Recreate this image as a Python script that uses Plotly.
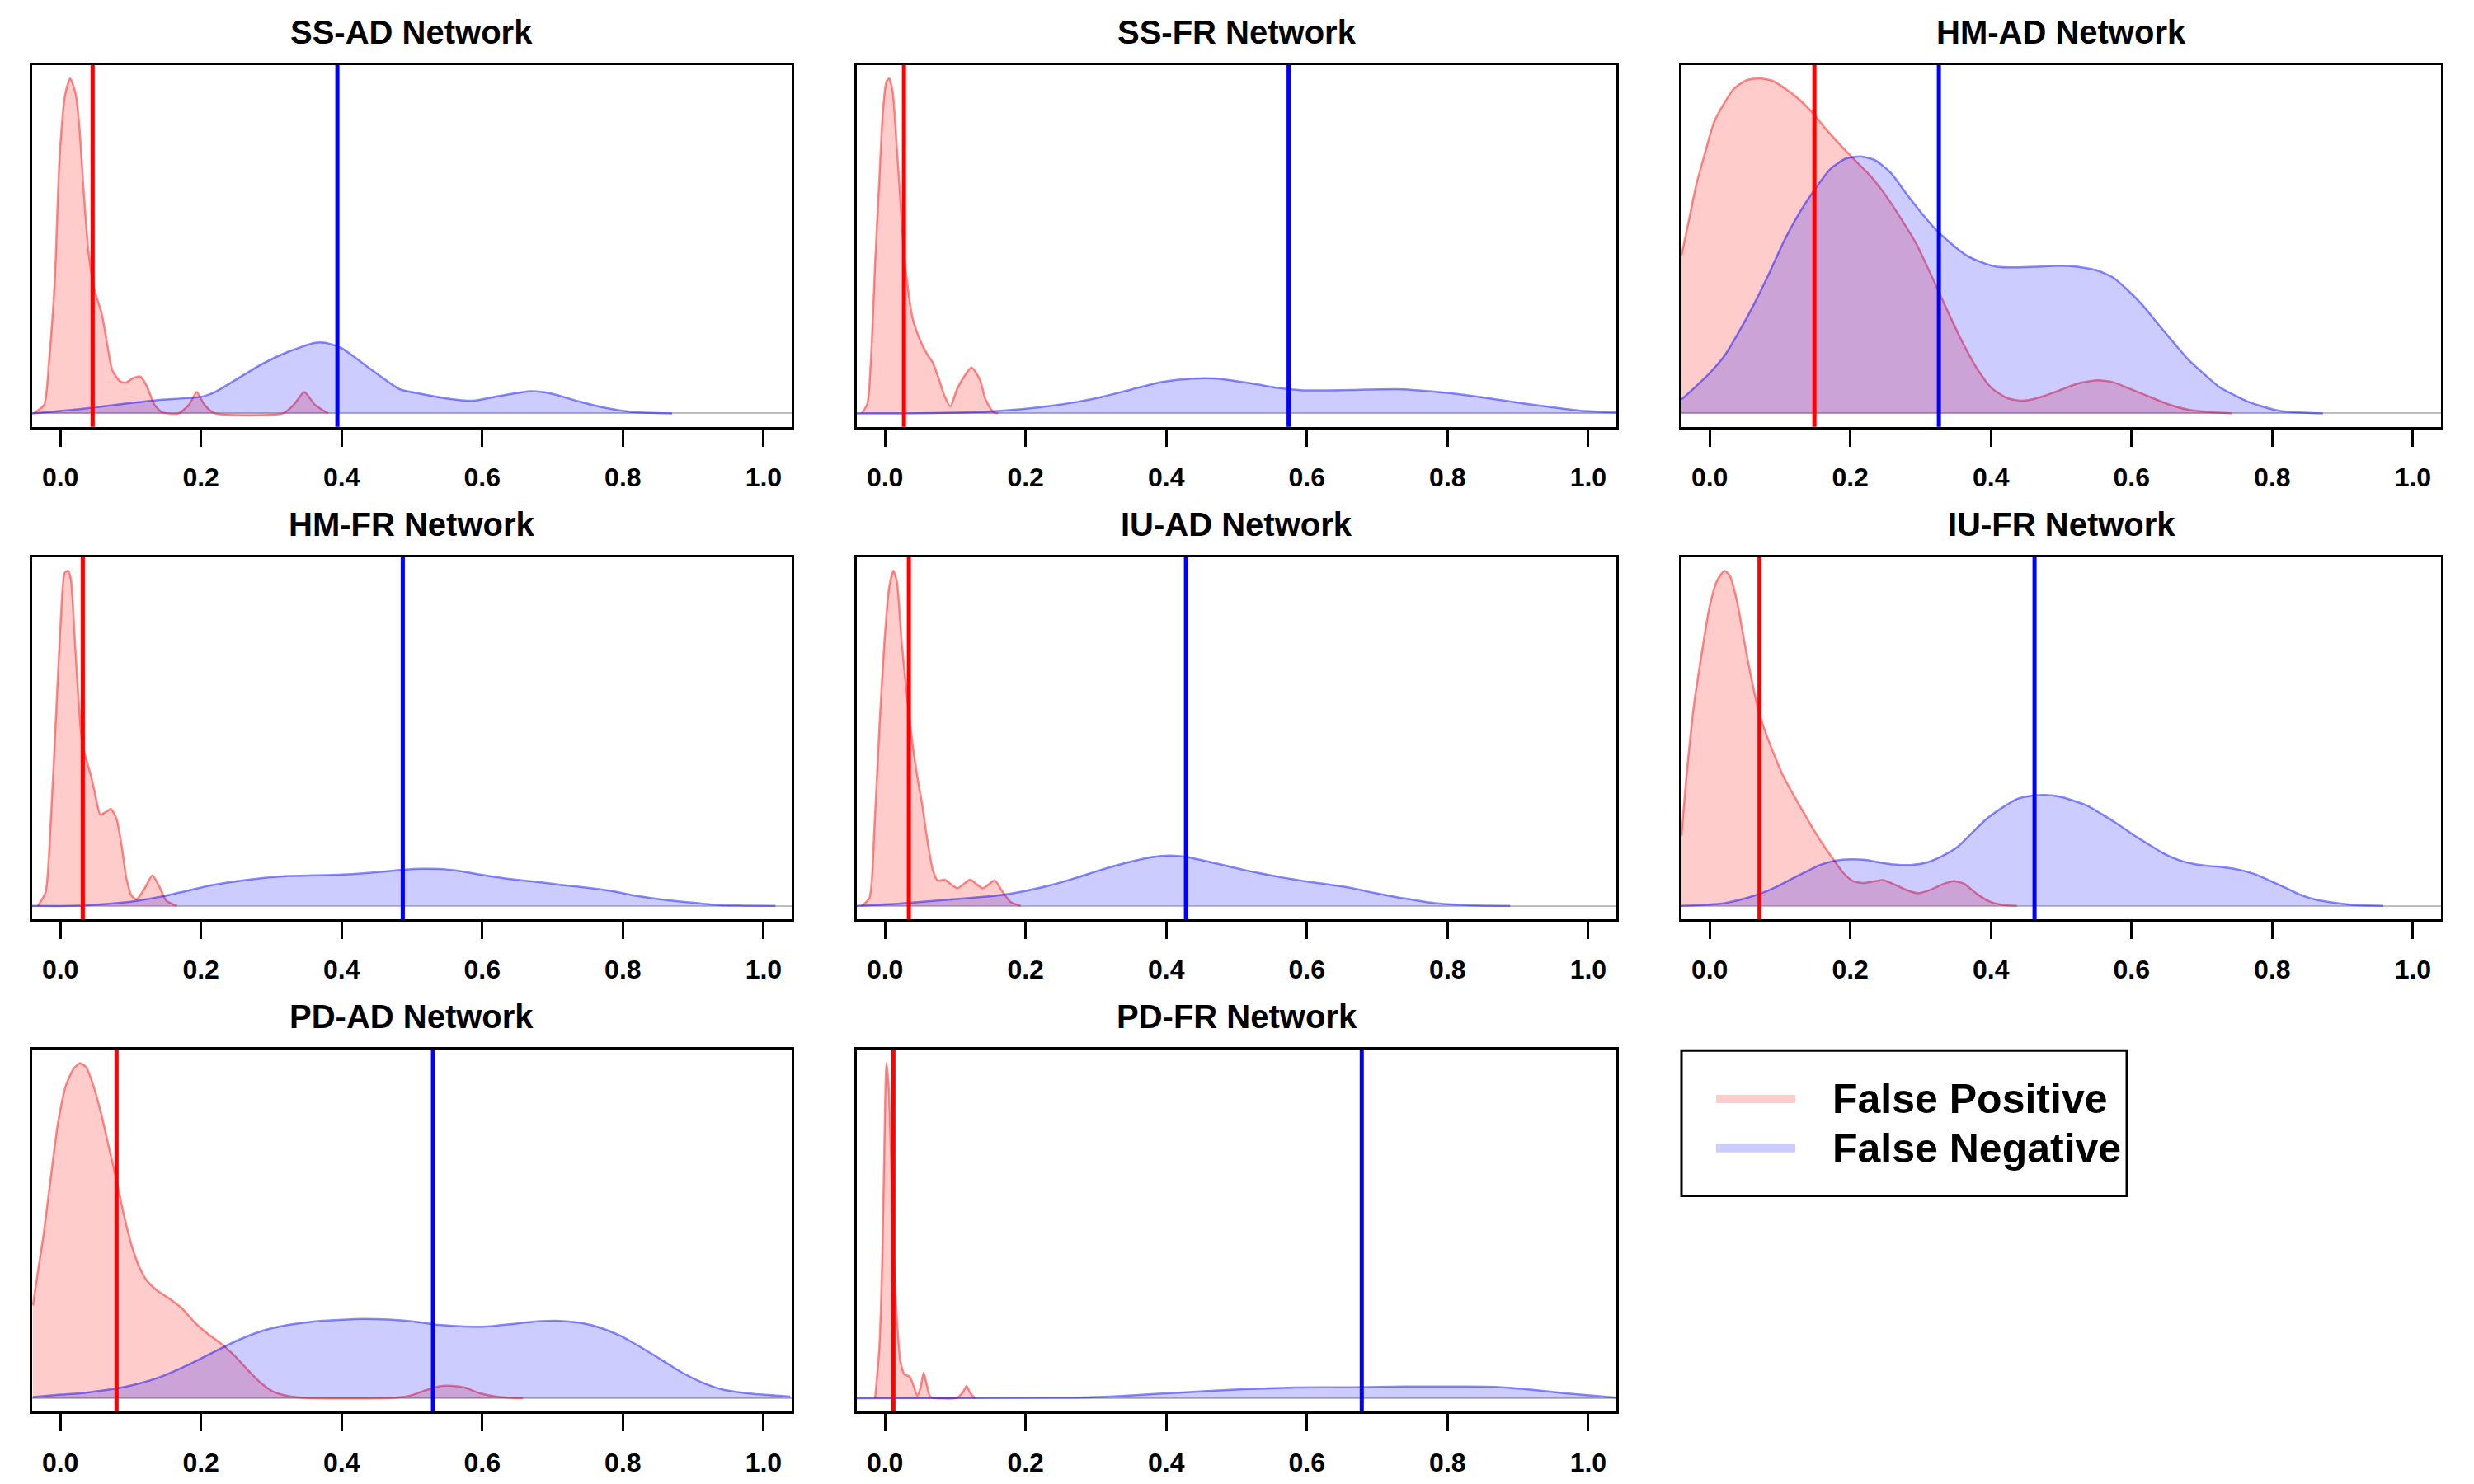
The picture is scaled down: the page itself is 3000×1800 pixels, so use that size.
import plotly.graph_objects as go
from plotly.subplots import make_subplots

# --- data ---
NETWORKS = ["SS-AD", "SS-FR", "HM-AD", "HM-FR", "IU-AD", "IU-FR", "PD-AD", "PD-FR"]

# vertical lines: observed false positive / false negative rate per network
FP_RATE = [0.046, 0.027, 0.149, 0.032, 0.034, 0.071, 0.080, 0.012]
FN_RATE = [0.394, 0.574, 0.326, 0.487, 0.428, 0.462, 0.530, 0.678]

# densities (scaled so the tallest peak of each panel is 1)
SS_AD_FP_X = [-0.038, -0.023, -0.016, -0.008, -0.001, 0.007, 0.014, 0.022, 0.027, 0.033, 0.040, 0.048, 0.059,
              0.067, 0.074, 0.085, 0.093, 0.104, 0.114, 0.123, 0.134, 0.145, 0.168, 0.183, 0.194, 0.205, 0.220,
              0.317, 0.332, 0.347, 0.362, 0.381]
SS_AD_FP_Y = [0, 0.026, 0.157, 0.391, 0.766, 0.953, 1.0, 0.953, 0.860, 0.672, 0.485, 0.373, 0.298,
              0.204, 0.129, 0.096, 0.092, 0.106, 0.110, 0.082, 0.026, 0.003, 0, 0.026, 0.064, 0.026, 0,
              0, 0.026, 0.064, 0.026, 0]
SS_AD_FN_X = [-0.040, 0.025, 0.100, 0.138, 0.201, 0.220, 0.250, 0.287, 0.325, 0.362, 0.377, 0.400, 0.437,
              0.482, 0.512, 0.549, 0.587, 0.624, 0.669, 0.699, 0.737, 0.774, 0.811, 0.870]
SS_AD_FN_Y = [0, 0.012, 0.031, 0.040, 0.050, 0.064, 0.101, 0.148, 0.185, 0.211, 0.211, 0.195, 0.139,
              0.073, 0.059, 0.045, 0.038, 0.052, 0.066, 0.059, 0.036, 0.017, 0.005, 0]

SS_FR_FP_X = [-0.033, -0.025, -0.019, -0.014, -0.008, -0.003, 0.002, 0.006, 0.011, 0.017, 0.021, 0.028, 0.039,
              0.050, 0.060, 0.068, 0.077, 0.085, 0.093, 0.103, 0.123, 0.135, 0.143, 0.154, 0.161]
SS_FR_FP_Y = [0, 0.03, 0.20, 0.45, 0.70, 0.90, 0.99, 1.0, 0.96, 0.79, 0.666, 0.455, 0.287,
              0.219, 0.177, 0.152, 0.101, 0.051, 0.021, 0.076, 0.137, 0.101, 0.042, 0.004, 0]
SS_FR_FN_X = [-0.040, 0.028, 0.114, 0.164, 0.222, 0.272, 0.308, 0.351, 0.394, 0.437, 0.473, 0.523, 0.559,
              0.595, 0.631, 0.667, 0.703, 0.739, 0.775, 0.810, 0.846, 0.882, 0.918, 0.954, 0.990, 1.040]
SS_FR_FN_Y = [0, 0, 0.003, 0.008, 0.019, 0.034, 0.049, 0.072, 0.094, 0.104, 0.104, 0.089, 0.076,
              0.069, 0.069, 0.070, 0.072, 0.072, 0.066, 0.059, 0.049, 0.038, 0.027, 0.017, 0.008, 0.003]

HM_AD_FP_X = [-0.040, -0.029, -0.019, -0.008, 0.006, 0.021, 0.035, 0.053, 0.071, 0.089, 0.107, 0.128, 0.146,
              0.164, 0.186, 0.207, 0.229, 0.251, 0.272, 0.294, 0.315, 0.337, 0.358, 0.380, 0.401, 0.423,
              0.444, 0.466, 0.495, 0.523, 0.552, 0.574, 0.595, 0.624, 0.653, 0.681, 0.710, 0.742]
HM_AD_FP_Y = [0.472, 0.582, 0.683, 0.767, 0.868, 0.927, 0.970, 0.995, 1.0, 0.993, 0.970, 0.936, 0.898,
              0.852, 0.801, 0.755, 0.708, 0.649, 0.582, 0.506, 0.413, 0.312, 0.219, 0.135, 0.076, 0.046,
              0.038, 0.046, 0.067, 0.089, 0.099, 0.093, 0.076, 0.051, 0.027, 0.011, 0.004, 0]
HM_AD_FN_X = [-0.040, -0.022, -0.001, 0.021, 0.042, 0.064, 0.085, 0.107, 0.128, 0.150, 0.172, 0.193, 0.215,
              0.236, 0.258, 0.279, 0.301, 0.322, 0.344, 0.365, 0.387, 0.408, 0.437, 0.466, 0.495, 0.523,
              0.552, 0.574, 0.595, 0.617, 0.638, 0.660, 0.681, 0.703, 0.724, 0.746, 0.767, 0.789, 0.810,
              0.839, 0.872]
HM_AD_FN_Y = [0.042, 0.076, 0.118, 0.172, 0.245, 0.330, 0.420, 0.520, 0.600, 0.670, 0.730, 0.760, 0.767,
              0.755, 0.717, 0.658, 0.599, 0.548, 0.506, 0.472, 0.451, 0.438, 0.436, 0.438, 0.441, 0.438,
              0.426, 0.405, 0.367, 0.320, 0.266, 0.211, 0.160, 0.118, 0.080, 0.055, 0.034, 0.019, 0.008,
              0.003, 0]

HM_FR_FP_X = [-0.032, -0.021, -0.014, -0.006, 0.001, 0.006, 0.011, 0.015, 0.021, 0.026, 0.031, 0.037, 0.044,
              0.051, 0.057, 0.065, 0.072, 0.080, 0.087, 0.094, 0.101, 0.108, 0.119, 0.131, 0.141, 0.151, 0.166]
HM_FR_FP_Y = [0, 0.040, 0.234, 0.572, 0.867, 0.993, 1.0, 0.976, 0.782, 0.614, 0.487, 0.437, 0.386,
              0.319, 0.272, 0.281, 0.289, 0.260, 0.184, 0.083, 0.032, 0.019, 0.049, 0.091, 0.057, 0.015, 0]
HM_FR_FN_X = [-0.040, 0.015, 0.072, 0.108, 0.144, 0.180, 0.216, 0.252, 0.288, 0.324, 0.360, 0.396, 0.431,
              0.467, 0.503, 0.539, 0.568, 0.604, 0.640, 0.676, 0.711, 0.747, 0.783, 0.819, 0.855, 0.891,
              0.927, 0.963, 1.017]
HM_FR_FN_Y = [0, 0, 0.007, 0.015, 0.028, 0.045, 0.062, 0.074, 0.083, 0.089, 0.091, 0.093, 0.097,
              0.104, 0.110, 0.110, 0.104, 0.091, 0.080, 0.072, 0.063, 0.055, 0.045, 0.030, 0.019, 0.011,
              0.004, 0.001, 0]

IU_AD_FP_X = [-0.033, -0.022, -0.015, -0.008, -0.001, 0.006, 0.012, 0.017, 0.024, 0.032, 0.039, 0.046, 0.053,
              0.060, 0.068, 0.075, 0.085, 0.103, 0.121, 0.139, 0.156, 0.168, 0.179, 0.193]
IU_AD_FP_Y = [0, 0.024, 0.234, 0.530, 0.782, 0.951, 1.0, 0.968, 0.782, 0.614, 0.487, 0.386, 0.302,
              0.201, 0.108, 0.076, 0.078, 0.053, 0.078, 0.053, 0.076, 0.040, 0.011, 0]
IU_AD_FN_X = [-0.040, 0.021, 0.093, 0.164, 0.200, 0.236, 0.272, 0.308, 0.344, 0.380, 0.405, 0.430, 0.466,
              0.509, 0.559, 0.609, 0.653, 0.696, 0.739, 0.782, 0.832, 0.889]
IU_AD_FN_Y = [0, 0.007, 0.019, 0.032, 0.045, 0.062, 0.084, 0.108, 0.129, 0.146, 0.150, 0.146, 0.129,
              0.108, 0.087, 0.070, 0.057, 0.039, 0.022, 0.008, 0.002, 0]

IU_FR_FP_X = [-0.040, -0.033, -0.022, -0.011, -0.001, 0.010, 0.021, 0.029, 0.039, 0.050, 0.060, 0.071, 0.082,
              0.093, 0.103, 0.118, 0.132, 0.146, 0.161, 0.175, 0.190, 0.204, 0.218, 0.233, 0.247, 0.265,
              0.283, 0.297, 0.315, 0.333, 0.347, 0.362, 0.380, 0.398, 0.416, 0.437]
IU_FR_FP_Y = [0.209, 0.386, 0.605, 0.757, 0.884, 0.968, 1.0, 0.984, 0.909, 0.782, 0.673, 0.572, 0.504,
              0.445, 0.395, 0.336, 0.285, 0.234, 0.184, 0.142, 0.099, 0.074, 0.068, 0.073, 0.077, 0.062,
              0.045, 0.038, 0.049, 0.066, 0.074, 0.066, 0.036, 0.013, 0.003, 0]
IU_FR_FN_X = [-0.040, -0.008, 0.021, 0.050, 0.071, 0.093, 0.114, 0.136, 0.157, 0.179, 0.200, 0.222, 0.243,
              0.265, 0.286, 0.308, 0.330, 0.352, 0.373, 0.394, 0.416, 0.437, 0.459, 0.477, 0.495, 0.516,
              0.538, 0.559, 0.581, 0.602, 0.624, 0.646, 0.667, 0.689, 0.711, 0.732, 0.753, 0.775, 0.796,
              0.818, 0.839, 0.861, 0.882, 0.911, 0.958]
IU_FR_FN_Y = [0, 0.003, 0.008, 0.022, 0.036, 0.055, 0.078, 0.101, 0.122, 0.135, 0.139, 0.137, 0.129,
              0.123, 0.122, 0.129, 0.148, 0.175, 0.218, 0.260, 0.293, 0.319, 0.329, 0.331, 0.327, 0.315,
              0.298, 0.272, 0.243, 0.213, 0.184, 0.156, 0.137, 0.125, 0.119, 0.115, 0.108, 0.095, 0.076,
              0.055, 0.034, 0.019, 0.011, 0.004, 0]

PD_AD_FP_X = [-0.039, -0.032, -0.024, -0.017, -0.010, -0.003, 0.008, 0.019, 0.028, 0.037, 0.047, 0.058, 0.069,
              0.080, 0.090, 0.101, 0.112, 0.123, 0.137, 0.155, 0.173, 0.191, 0.209, 0.230, 0.248, 0.266,
              0.284, 0.302, 0.324, 0.352, 0.467, 0.496, 0.518, 0.539, 0.557, 0.575, 0.597, 0.625, 0.658]
PD_AD_FP_Y = [0.277, 0.377, 0.485, 0.601, 0.718, 0.826, 0.934, 0.984, 1.0, 0.988, 0.934, 0.851, 0.751,
              0.651, 0.552, 0.460, 0.394, 0.352, 0.323, 0.298, 0.269, 0.227, 0.194, 0.161, 0.127, 0.086,
              0.048, 0.021, 0.007, 0.001, 0.001, 0.007, 0.023, 0.036, 0.037, 0.032, 0.015, 0.004, 0]
PD_AD_FN_X = [-0.039, 0.001, 0.037, 0.073, 0.108, 0.144, 0.180, 0.216, 0.252, 0.288, 0.324, 0.360, 0.396,
              0.431, 0.467, 0.503, 0.539, 0.575, 0.611, 0.647, 0.683, 0.711, 0.740, 0.769, 0.797, 0.826,
              0.855, 0.884, 0.912, 0.941, 0.970, 0.999, 1.038]
PD_AD_FN_Y = [0.004, 0.011, 0.017, 0.027, 0.042, 0.065, 0.098, 0.136, 0.173, 0.202, 0.219, 0.229, 0.234,
              0.237, 0.235, 0.229, 0.219, 0.214, 0.215, 0.223, 0.230, 0.231, 0.225, 0.210, 0.186, 0.152,
              0.115, 0.077, 0.048, 0.027, 0.017, 0.011, 0.005]

PD_FR_FP_X = [-0.014, -0.008, -0.004, -0.001, 0.002, 0.005, 0.009, 0.012, 0.017, 0.022, 0.028, 0.035, 0.041,
              0.046, 0.051, 0.055, 0.060, 0.065, 0.103, 0.111, 0.116, 0.121, 0.128]
PD_FR_FP_Y = [0, 0.152, 0.402, 0.735, 1.0, 0.943, 0.693, 0.443, 0.235, 0.111, 0.071, 0.065, 0.036,
              0.007, 0.036, 0.077, 0.036, 0.004, 0.002, 0.019, 0.037, 0.017, 0]
PD_FR_FN_X = [-0.040, 0.272, 0.337, 0.394, 0.452, 0.509, 0.581, 0.667, 0.739, 0.810, 0.868, 0.918, 0.968, 1.040]
PD_FR_FN_Y = [0, 0.002, 0.007, 0.014, 0.021, 0.027, 0.032, 0.033, 0.035, 0.035, 0.034, 0.026, 0.015, 0.002]

DENSITIES = {
    "SS-AD": (SS_AD_FP_X, SS_AD_FP_Y, SS_AD_FN_X, SS_AD_FN_Y),
    "SS-FR": (SS_FR_FP_X, SS_FR_FP_Y, SS_FR_FN_X, SS_FR_FN_Y),
    "HM-AD": (HM_AD_FP_X, HM_AD_FP_Y, HM_AD_FN_X, HM_AD_FN_Y),
    "HM-FR": (HM_FR_FP_X, HM_FR_FP_Y, HM_FR_FN_X, HM_FR_FN_Y),
    "IU-AD": (IU_AD_FP_X, IU_AD_FP_Y, IU_AD_FN_X, IU_AD_FN_Y),
    "IU-FR": (IU_FR_FP_X, IU_FR_FP_Y, IU_FR_FN_X, IU_FR_FN_Y),
    "PD-AD": (PD_AD_FP_X, PD_AD_FP_Y, PD_AD_FN_X, PD_AD_FN_Y),
    "PD-FR": (PD_FR_FP_X, PD_FR_FP_Y, PD_FR_FN_X, PD_FR_FN_Y),
}

LEGEND_LABELS = ["False Positive", "False Negative"]

# --- style ---
FONT = "Liberation Sans, Arial, sans-serif"
OFF = 8  # the page body has an 8px margin, so the figure is drawn that much smaller
W, H = 3000 - 2 * OFF, 1800 - 2 * OFF
FP_FILL, FP_LINE = "rgba(255,0,0,0.2)", "rgba(255,0,0,0.45)"
FN_FILL, FN_LINE = "rgba(0,0,255,0.2)", "rgba(0,0,255,0.45)"
LEGEND_SWATCH = ["#FFCCCC", "#CCCCFF"]

# panel boxes in screen pixels (left, right) and (top, bottom)
COLS_PX = [(39, 960), (1039, 1960), (2039, 2960)]
ROWS_PX = [(79, 520), (679, 1120), (1279, 1720)]


def px_x(p):
    return (p - OFF) / W


def px_y(p):
    return 1 - (p - OFF) / H


fig = make_subplots(rows=3, cols=3, specs=[[{}, {}, {}], [{}, {}, {}], [{}, {}, None]])

annotations = []
for i, name in enumerate(NETWORKS):
    r, c = divmod(i, 3)
    fx, fy, nx, ny = DENSITIES[name]
    for xs, ys, fill, line in [(fx, fy, FP_FILL, FP_LINE), (nx, ny, FN_FILL, FN_LINE)]:
        fig.add_trace(go.Scatter(x=xs, y=ys, mode="lines", fill="tozeroy", fillcolor=fill,
                                 line=dict(color=line, width=2.5, shape="spline", smoothing=0.6),
                                 showlegend=False, hoverinfo="skip"), row=r + 1, col=c + 1)
    fig.add_vline(x=FP_RATE[i], line=dict(color="#FF0000", width=5), row=r + 1, col=c + 1)
    fig.add_vline(x=FN_RATE[i], line=dict(color="#0000FF", width=5), row=r + 1, col=c + 1)

    ymax = max(max(fy), max(ny))
    sfx = "" if i == 0 else str(i + 1)
    x0, x1 = COLS_PX[c]
    t, b = ROWS_PX[r]
    fig.layout["xaxis" + sfx].update(
        domain=[px_x(x0), px_x(x1)], range=[-0.04, 1.04], tickvals=[0, 0.2, 0.4, 0.6, 0.8, 1.0],
        tickformat=".1f", ticks="outside", ticklen=21, tickwidth=3, tickcolor="black",
        ticklabelstandoff=10,
        tickfont=dict(size=32, family=FONT, color="black", weight="bold"),
        showline=True, mirror=True, linecolor="black", linewidth=3, showgrid=False, zeroline=False)
    fig.layout["yaxis" + sfx].update(
        domain=[px_y(b), px_y(t)], range=[-0.04 * ymax, 1.04 * ymax],
        showticklabels=False, ticks="", showline=True, mirror=True, linecolor="black", linewidth=3,
        showgrid=False, zeroline=True, zerolinecolor="#BEBEBE", zerolinewidth=2)
    annotations.append(dict(text=name + " Network", x=(px_x(x0) + px_x(x1)) / 2, y=px_y(t), xref="paper",
                            yref="paper", xanchor="center", yanchor="middle", yshift=40, showarrow=False,
                            font=dict(size=40, family=FONT, color="black", weight="bold")))

# legend in the empty ninth cell
shapes = [dict(type="rect", xref="paper", yref="paper", x0=px_x(2039), x1=px_x(2579),
               y0=px_y(1457), y1=px_y(1280), line=dict(color="black", width=3))]
for label, swatch, ypx in zip(LEGEND_LABELS, LEGEND_SWATCH, [1339, 1399]):
    shapes.append(dict(type="line", xref="paper", yref="paper", x0=px_x(2081), x1=px_x(2177),
                       y0=px_y(ypx), y1=px_y(ypx), line=dict(color=swatch, width=10)))
    annotations.append(dict(text=label, x=px_x(2220), y=px_y(ypx), xref="paper", yref="paper",
                            xanchor="left", yanchor="middle", showarrow=False,
                            font=dict(size=50, family=FONT, color="black", weight="bold")))

fig.update_layout(
    width=W, height=H, margin=dict(l=0, r=0, t=0, b=0),
    paper_bgcolor="white", plot_bgcolor="white",
    font=dict(family=FONT, color="black"),
    showlegend=False,
)
fig.update_layout(annotations=list(fig.layout.annotations) + annotations,
                  shapes=list(fig.layout.shapes) + shapes)

fig.write_html("out.html")
